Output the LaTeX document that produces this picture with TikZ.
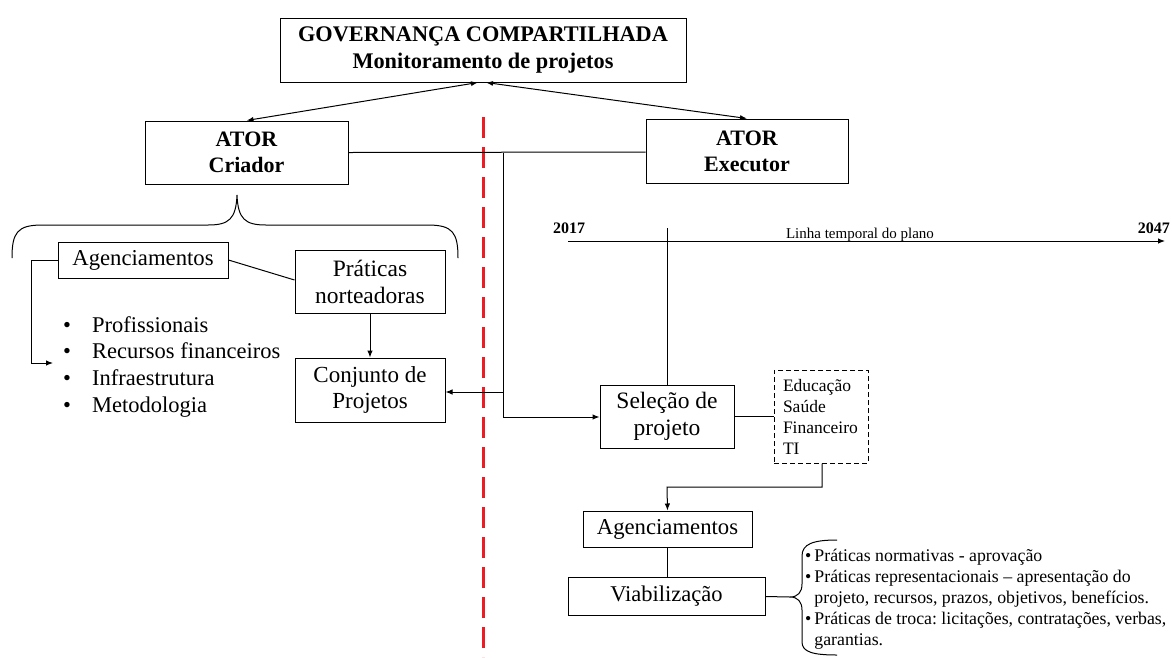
\documentclass[tikz,border=0pt]{standalone}
\usepackage{fontspec}
\setmainfont{Liberation Serif}
\usetikzlibrary{arrows.meta}
\definecolor{splitred}{RGB}{237,28,36}
\frenchspacing
\begin{document}
\begin{tikzpicture}[x=1pt,y=-1pt,
  box/.style={draw, line width=1pt, inner sep=0pt, align=center},
  titlefont/.style={font=\fontsize{22.3}{27}\selectfont\bfseries},
  actorfont/.style={font=\fontsize{22}{26}\selectfont\bfseries},
  agfont/.style={font=\fontsize{22.7}{27}\selectfont},
  midfont/.style={font=\fontsize{23.5}{27}\selectfont},
  conn/.style={line width=1pt},
  arr/.style={conn, -{Latex[length=7pt,width=5.5pt]}},
  dblarr/.style={conn, {Latex[length=7pt,width=5pt]}-{Latex[length=7pt,width=5pt]}},
  item/.style={anchor=west, inner sep=0pt, font=\fontsize{22.5}{26}\selectfont,
    text height=0.7em, text depth=0.25em},
  sector/.style={draw, dashed, dash pattern=on 5pt off 3pt, line width=1pt,
    inner sep=0pt, inner xsep=9pt, align=left, text width=76pt,
    minimum width=94pt, minimum height=93pt, font=\fontsize{17.5}{21}\selectfont},
  divider/.style={draw=splitred, line width=3pt, dash pattern=on 21pt off 9pt}
]
\useasboundingbox (0,0) rectangle (1172,657);

% boxes
\node[box, titlefont, minimum width=406pt, minimum height=64pt] (gov) at (483,50)
  {GOVERNANÇA COMPARTILHADA\\Monitoramento de projetos};
\node[box, actorfont, minimum width=203pt, minimum height=63pt] (criador) at (246.5,152.5)
  {ATOR\\Criador};
\node[box, actorfont, minimum width=202pt, minimum height=64pt] (executor) at (747,151)
  {ATOR\\Executor};
\node[box, agfont, minimum width=170pt, minimum height=36pt] (agl) at (143,260)
  {Agenciamentos};
\node[box, midfont, minimum width=150pt, minimum height=63pt] (prat) at (370,281.5)
  {Práticas\\norteadoras};
\node[box, font=\fontsize{23}{26}\selectfont, minimum width=150pt, minimum height=64pt] (conj) at (370,390)
  {Conjunto de\\Projetos};
\node[box, midfont, minimum width=134pt, minimum height=63pt] (sel) at (667,416.5)
  {Seleção de\\projeto};
\node[sector] (setores) at (821,416.5) {Educação\\Saúde\\Financeiro\\TI};
\node[box, agfont, minimum width=169pt, minimum height=36pt] (agr) at (667.5,529)
  {Agenciamentos};
\node[box, font=\fontsize{22.5}{26}\selectfont, minimum width=197pt, minimum height=38pt]
  (viab) at (666.5,596.5) {Viabilização};

% resources listed under the left Agenciamentos
\node[item] (b1) at (63,330) {\makebox[29pt][l]{\textbullet}Profissionais};
\node[item] (b2) at (63,356) {\makebox[29pt][l]{\textbullet}Recursos financeiros};
\node[item] (b3) at (63,383) {\makebox[29pt][l]{\textbullet}Infraestrutura};
\node[item] (b4) at (63,410) {\makebox[29pt][l]{\textbullet}Metodologia};

% practices listed beside Viabilização
\node[anchor=north west, inner sep=0pt, font=\fontsize{17.8}{21}\selectfont] (prl) at (805,546.5)
  {\begin{tabular}{@{}l@{\hspace{3pt}}l@{}}
   \textbullet & Práticas normativas - aprovação\\
   \textbullet & Práticas representacionais – apresentação do\\
               & projeto, recursos, prazos, objetivos, benefícios.\\
   \textbullet & Práticas de troca: licitações, contratações, verbas,\\
               & garantias.
   \end{tabular}};

% dividing line between the two actors
\coordinate (divtop) at (483,117);
\coordinate (divbot) at (483,657);
\draw[divider] (divtop) -- (divbot);

% governance links
\draw[dblarr] (criador.north) -- ([xshift=-5pt]gov.south);
\draw[dblarr] (executor.north) -- ([xshift=3pt]gov.south);

% link between the actors and the branch to the projects
\coordinate (jn) at (503,153);
\coordinate (jn1) at (503,392);
\coordinate (jn2) at (503,417);
\draw[conn] (criador.east) -- ([yshift=-1pt]executor.west);
\draw[conn] (jn) -- (jn2);
\draw[arr] (jn1) -- (conj.east |- jn1);
\draw[arr] (jn2) -- (sel.west |- jn2);

% left side
\draw[conn] (agl.east) -- ([yshift=1.5pt]prat.west);
\draw[arr] (prat.south) -- (conj.north);
\coordinate (el1) at (31,260);
\coordinate (el2) at (31,363);
\coordinate (el3) at (53,363);
\draw[arr] (agl.west) -- (el1) -- (el2) -- (el3);

% brace grouping the creator's elements
\coordinate (brl) at (12,258);
\coordinate (brtip) at (237,195);
\coordinate (brr) at (458,258);
\draw[line width=1pt] (brl) .. controls (12,233) and (17,225) .. (42,225) -- (208,225)
  .. controls (229,225) and (236,219) .. (brtip)
  .. controls (238,219) and (245,225) .. (266,225) -- (428,225)
  .. controls (453,225) and (458,233) .. (brr);

% timeline of the plan
\coordinate (t0) at (568,241);
\coordinate (t1) at (1165,241);
\draw[arr] (t0) -- (t1);
\node[anchor=south west, inner sep=0pt, font=\fontsize{16}{18}\selectfont\bfseries] (y0) at (553,234) {2017};
\node[anchor=south east, inner sep=0pt, font=\fontsize{16}{18}\selectfont\bfseries] (y1) at (1170,234) {2047};
\node[anchor=base, inner sep=0pt, font=\fontsize{15}{17}\selectfont] (tl) at (860,238) {Linha temporal do plano};
\coordinate (tick) at (667,228);
\draw[conn] (tick) -- (sel.north);

% right side flow
\draw[conn] (sel.east) -- (setores.west);
\coordinate (r1) at (822,487);
\coordinate (r2) at (667,487);
\draw[arr] (setores.south -| r1) -- (r1) -- (r2) -- (agr.north);
\draw[conn] (agr.south) -- (agr.south |- viab.north);

% brace opening towards the practices
\coordinate (vbtip) at (790,597);
\draw[conn] (viab.east) -- (vbtip);
\draw[line width=1pt] (837,540) .. controls (813,540) and (802,544) .. (802,556) -- (802,584)
  .. controls (802,592) and (798,597) .. (vbtip)
  .. controls (798,597) and (802,602) .. (802,610) -- (802,642)
  .. controls (802,652) and (813,655) .. (837,655);
\end{tikzpicture}
\end{document}
